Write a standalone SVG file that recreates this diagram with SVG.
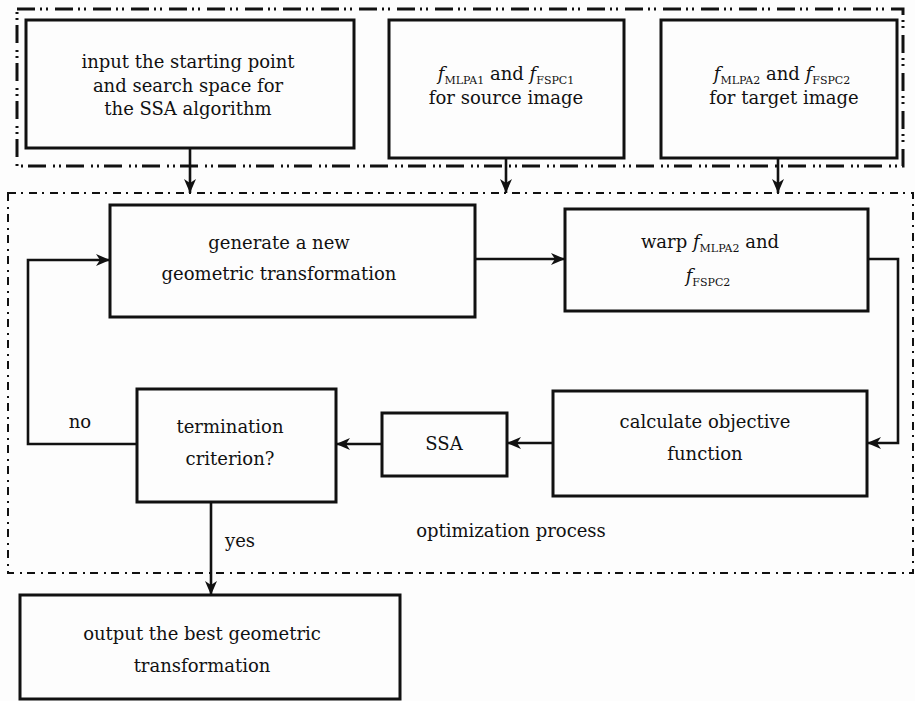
<svg xmlns="http://www.w3.org/2000/svg" width="915" height="701" viewBox="0 0 915 701">
<defs>
<marker id="ah" markerUnits="userSpaceOnUse" markerWidth="16" markerHeight="14" refX="15" refY="7" orient="auto" overflow="visible">
<path d="M15,7 L1,1 L5,7 L1,13 Z" fill="#111"/>
</marker>
<style>
text{font-family:"DejaVu Serif","Liberation Serif",serif;font-size:18px;fill:#111;text-anchor:middle}
.b{fill:none;stroke:#111;stroke-width:3}
.c{fill:none;stroke:#111;stroke-width:2.6}
.outer{fill:none;stroke:#111;stroke-width:3;stroke-dasharray:18 5 2 4 2 7}
.inner{fill:none;stroke:#111;stroke-width:2;stroke-dasharray:8 5 2 6}
.i{font-style:italic}
.s{font-size:11px}
</style>
</defs>
<rect width="915" height="701" fill="#fdfdfd"/>
<g id="groups">
<rect class="outer" x="17" y="9" width="886" height="157"/>
<rect class="inner" x="8" y="193" width="905" height="380"/>
<text x="511" y="537">optimization process</text>
</g>
<g id="connectors">
<path class="c" d="M190,148 V193" marker-end="url(#ah)"/>
<path class="c" d="M506,158 V193" marker-end="url(#ah)"/>
<path class="c" d="M778,158 V193" marker-end="url(#ah)"/>
<path class="c" d="M475,259 H565" marker-end="url(#ah)"/>
<path class="c" d="M868,259 H898 V443 H867" marker-end="url(#ah)"/>
<path class="c" d="M553,443 H507" marker-end="url(#ah)"/>
<path class="c" d="M382,444 H336" marker-end="url(#ah)"/>
<path class="c" d="M137,444 H28 V260 H110" marker-end="url(#ah)"/>
<path class="c" d="M211,502 V595" marker-end="url(#ah)"/>
<text x="80" y="428">no</text>
<text x="240" y="547">yes</text>
</g>
<g id="n-input">
<rect class="b" x="26" y="20" width="328" height="128"/>
<text x="188" y="68">input the starting point</text>
<text x="188" y="92">and search space for</text>
<text x="188" y="115">the SSA algorithm</text>
</g>
<g id="n-source">
<rect class="b" x="389" y="20" width="235" height="138"/>
<text x="506" y="80"><tspan class="i">f</tspan><tspan class="s" dy="4">MLPA1</tspan><tspan dy="-4"> and </tspan><tspan class="i">f</tspan><tspan class="s" dy="4">FSPC1</tspan></text>
<text x="506" y="104">for source image</text>
</g>
<g id="n-target">
<rect class="b" x="661" y="20" width="236" height="138"/>
<text x="782" y="80"><tspan class="i">f</tspan><tspan class="s" dy="4">MLPA2</tspan><tspan dy="-4"> and </tspan><tspan class="i">f</tspan><tspan class="s" dy="4">FSPC2</tspan></text>
<text x="784" y="104">for target image</text>
</g>
<g id="n-generate">
<rect class="b" x="110" y="205" width="365" height="112"/>
<text x="279" y="249">generate a new</text>
<text x="279" y="280">geometric transformation</text>
</g>
<g id="n-warp">
<rect class="b" x="565" y="209" width="303" height="102"/>
<text x="710" y="248">warp <tspan class="i">f</tspan><tspan class="s" dy="4">MLPA2</tspan><tspan dy="-4"> and</tspan></text>
<text x="708" y="282"><tspan class="i">f</tspan><tspan class="s" dy="4">FSPC2</tspan></text>
</g>
<g id="n-calc">
<rect class="b" x="553" y="391" width="314" height="105"/>
<text x="705" y="428">calculate objective</text>
<text x="705" y="460">function</text>
</g>
<g id="n-ssa">
<rect class="b" x="382" y="413" width="125" height="63"/>
<text x="444" y="450">SSA</text>
</g>
<g id="n-term">
<rect class="b" x="137" y="389" width="199" height="113"/>
<text x="230" y="433">termination</text>
<text x="230" y="465">criterion?</text>
</g>
<g id="n-output">
<rect class="b" x="20" y="595" width="380" height="104"/>
<text x="202" y="640">output the best geometric</text>
<text x="202" y="672">transformation</text>
</g>
</svg>
